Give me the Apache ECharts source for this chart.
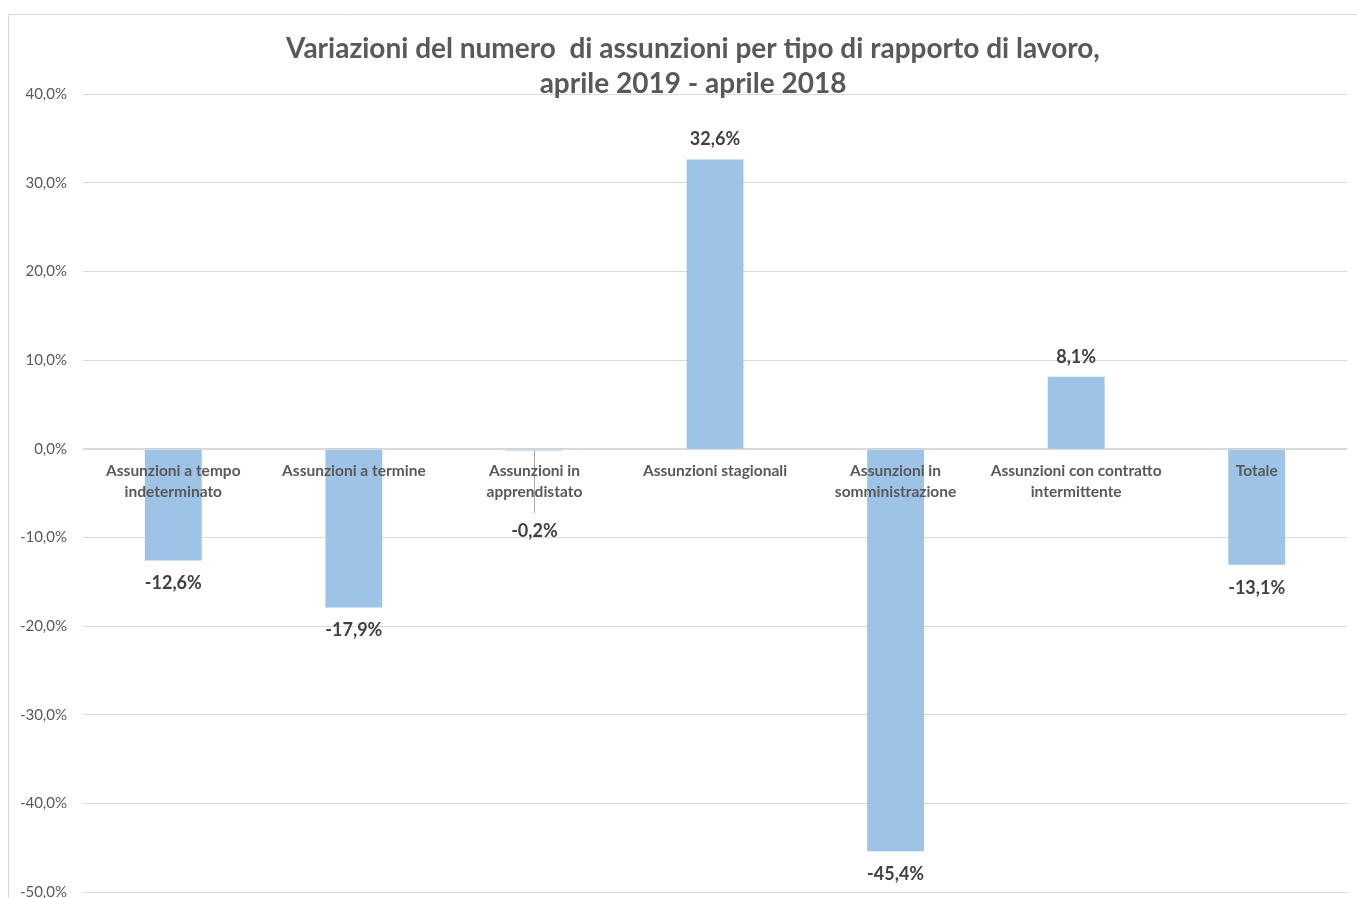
<!DOCTYPE html>
<html>
<head>
<meta charset="utf-8">
<script src="https://cdn.jsdelivr.net/npm/echarts@6/dist/echarts.min.js"></script>
<style>
  html, body { margin: 0; padding: 0; background: #fff; }
  #chart { width: 1357px; height: 898px; }
</style>
</head>
<body>
<div id="chart"></div>
<script>
const categories = [
  "Assunzioni a tempo\nindeterminato",
  "Assunzioni a termine",
  "Assunzioni in\napprendistato",
  "Assunzioni stagionali",
  "Assunzioni in\nsomministrazione",
  "Assunzioni con contratto\nintermittente",
  "Totale"
];
const variazioni = [-12.6, -17.9, -0.2, 32.6, -45.4, 8.1, -13.1];

const font_family = 'Lato';
const text_gray = '#595959';
const grid_gray = '#d9d9d9';

function formatPercent(value) {
  return value.toFixed(1).replace('.', ',') + '%';
}

const barData = variazioni.map(function (v, i) {
  const item = { value: v, label: { distance: v < 0 ? 14 : 11 } };
  if (i === 2) {
    // label moved down below the category name, as in the original
    item.label = { distance: 72 };
  }
  return item;
});

const chart = echarts.init(document.getElementById('chart'));
chart.setOption({
  animation: false,
  title: {
    text: 'Variazioni del numero  di assunzioni per tipo di rapporto di lavoro,\naprile 2019 - aprile 2018',
    left: 688,
    top: 26,
    textAlign: 'center',
    textStyle: {
      fontFamily: font_family,
      fontSize: 28,
      fontWeight: 'bold',
      color: text_gray,
      lineHeight: 35
    }
  },
  graphic: [
    {
      type: 'rect',
      shape: { x: 8.5, y: 14.5, width: 1400, height: 1000 },
      style: { fill: 'none', stroke: grid_gray, lineWidth: 1 },
      silent: true
    },
    {
      // leader line of the moved -0,2% label
      type: 'line',
      shape: { x1: 534.5, y1: 451, x2: 534.5, y2: 513 },
      style: { stroke: '#a6a6a6', lineWidth: 1 },
      silent: true
    }
  ],
  grid: { left: 83, right: 10, top: 94, bottom: 6, outerBoundsMode: 'none', containLabel: false },
  xAxis: {
    type: 'category',
    data: categories,
    // category names sit just under the zero line, over the bars
    offset: -443,
    z: 5,
    axisLine: { onZero: false, lineStyle: { color: grid_gray } },
    axisTick: { show: false },
    axisLabel: {
      interval: 0,
      margin: 11,
      fontFamily: font_family,
      fontSize: 15.5,
      fontWeight: 'bold',
      color: text_gray,
      lineHeight: 21
    }
  },
  yAxis: {
    type: 'value',
    min: -50,
    max: 40,
    interval: 10,
    axisLine: { show: false },
    axisTick: { show: false },
    axisLabel: {
      margin: 16,
      fontFamily: font_family,
      fontSize: 15,
      color: text_gray,
      formatter: formatPercent
    },
    splitLine: { lineStyle: { color: grid_gray, width: 1 } }
  },
  series: [
    {
      type: 'bar',
      data: barData,
      barWidth: '31.5%',
      itemStyle: { color: '#9dc3e6' },
      label: {
        show: true,
        position: 'outside',
        fontFamily: font_family,
        fontSize: 18,
        fontWeight: 'bold',
        color: '#404040',
        formatter: function (p) { return formatPercent(p.value); }
      },
      z: 1
    }
  ]
});
</script>
</body>
</html>
